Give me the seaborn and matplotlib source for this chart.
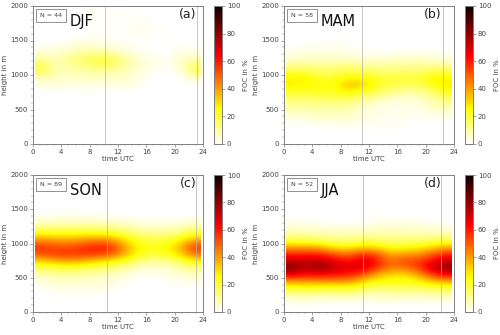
import numpy as np
import pandas as pd
import matplotlib
matplotlib.use("Agg")
import matplotlib.pyplot as plt
from matplotlib.ticker import MultipleLocator
import seaborn as sns

hours = [1, 3, 5, 7, 9, 11, 13, 15, 17, 19, 21, 23]
heights = [1950, 1850, 1750, 1650, 1550, 1450, 1350, 1250, 1150, 1050,
           950, 850, 750, 650, 550, 450, 350, 250, 150, 50]

djf = [
 [0,0,0,1,2,1,1,0,0,0,0,0],
 [0,0,0,1,1,1,1,1,0,0,0,0],
 [0,0,0,0,1,1,1,2,1,0,0,0],
 [0,0,0,0,1,1,1,2,1,1,0,0],
 [0,0,0,1,1,1,1,1,1,1,0,0],
 [1,1,3,5,3,3,2,1,0,0,1,0],
 [4,4,6,8,8,6,3,2,1,0,3,2],
 [8,6,11,15,18,17,10,4,2,1,5,6],
 [19,7,10,13,18,17,10,5,3,1,5,14],
 [17,7,7,8,9,8,7,4,2,0,2,17],
 [6,6,5,6,6,6,5,3,0,0,0,4],
 [3,4,3,3,3,3,4,2,0,0,0,1],
 [0,0,0,1,0,0,0,0,0,0,0,0],
 [0,0,0,0,0,0,0,0,0,0,0,0],
 [0,0,0,0,0,0,0,0,0,0,0,0],
 [0,0,0,0,0,0,0,0,0,0,0,0],
 [0,0,0,0,0,0,0,0,0,0,0,0],
 [0,0,0,0,0,0,0,0,0,0,0,0],
 [0,0,0,0,0,0,0,0,0,0,0,0],
 [0,0,0,0,0,0,0,0,0,0,0,0],
]
mam = [
 [0,0,0,0,0,0,0,0,0,0,0,0],
 [0,0,0,0,0,0,0,0,0,0,0,0],
 [0,0,0,0,0,0,0,0,0,0,0,0],
 [0,0,0,0,0,0,0,0,0,0,0,0],
 [0,0,0,1,0,0,0,0,0,0,0,0],
 [0,1,1,1,1,0,0,0,0,0,0,0],
 [2,3,3,3,2,1,1,1,1,2,1,1],
 [4,5,5,5,5,4,4,4,5,5,4,3],
 [10,11,10,11,12,10,9,9,10,9,10,9],
 [20,19,15,16,18,17,15,14,15,14,19,18],
 [27,27,22,22,27,27,22,20,20,20,26,27],
 [28,25,24,24,36,32,23,19,17,16,22,29],
 [21,21,23,22,25,22,17,11,9,9,13,22],
 [14,14,15,16,16,12,8,5,4,5,8,14],
 [10,10,10,10,10,6,3,2,2,3,6,9],
 [6,6,7,7,7,4,3,2,2,1,3,4],
 [2,3,4,4,4,3,2,2,2,1,1,1],
 [0,0,1,1,1,1,1,1,1,0,0,0],
 [0,0,0,0,0,0,0,0,0,0,0,0],
 [0,0,0,0,0,0,0,0,0,0,0,0],
]
son = [
 [0,0,0,0,0,0,0,0,0,0,0,0],
 [0,0,0,0,0,0,0,0,0,0,0,0],
 [0,0,0,0,0,0,0,0,0,0,0,0],
 [0,0,0,0,0,0,0,0,0,0,0,0],
 [0,0,0,0,0,0,0,0,0,0,0,0],
 [0,1,1,1,1,0,0,0,0,0,0,0],
 [4,4,4,4,4,3,3,2,2,2,2,3],
 [10,11,11,11,11,10,8,6,5,5,6,9],
 [24,24,24,24,24,22,17,13,11,11,14,22],
 [42,40,38,42,44,42,30,21,19,20,26,38],
 [56,52,52,56,60,58,40,25,23,25,35,56],
 [52,56,56,56,56,52,38,24,21,23,32,48],
 [33,38,40,38,33,28,22,14,11,11,17,28],
 [17,19,21,18,16,13,10,5,4,5,9,13],
 [8,10,10,9,8,7,4,2,2,3,4,7],
 [3,5,5,5,4,4,2,0,0,1,2,3],
 [1,3,3,3,3,2,0,0,0,0,0,0],
 [0,1,1,1,1,0,0,0,0,0,0,0],
 [0,0,0,0,0,0,0,0,0,0,0,0],
 [0,0,0,0,0,0,0,0,0,0,0,0],
]
jja = [
 [0,0,0,0,0,0,0,0,0,0,0,0],
 [0,0,0,0,0,0,0,0,0,0,0,0],
 [0,0,0,0,0,0,0,0,0,0,0,0],
 [0,0,0,0,0,0,0,0,0,0,0,0],
 [0,0,0,0,0,0,0,0,0,0,0,0],
 [0,0,0,0,0,0,0,0,0,0,0,0],
 [1,1,0,0,0,0,1,2,2,2,0,0],
 [4,4,3,3,3,3,4,4,4,4,3,3],
 [8,8,8,7,7,8,8,8,8,8,7,7],
 [18,17,15,13,13,15,15,13,13,14,15,17],
 [38,38,36,28,26,31,30,22,24,25,31,36],
 [58,58,58,50,46,55,52,37,40,40,48,58],
 [72,72,72,66,60,70,62,45,54,52,62,72],
 [82,72,82,72,68,70,58,45,46,54,70,80],
 [68,62,64,62,60,54,38,32,30,38,54,66],
 [40,42,42,42,42,34,25,25,23,26,34,38],
 [21,23,21,21,23,17,14,16,16,16,17,19],
 [9,9,9,9,9,7,6,7,7,7,7,8],
 [2,3,2,2,2,2,2,2,2,2,2,2],
 [0,0,0,0,0,0,0,0,0,0,0,0],
]

seasons = ["DJF", "MAM", "SON", "JJA"]
counts = [44, 58, 89, 52]
letters = ["(a)", "(b)", "(c)", "(d)"]
letter_x = [0.912, 0.876, 0.912, 0.876]
tables = [djf, mam, son, jja]
vlines = [[10.2, 23.2], [11.0, 22.4], [10.5, 23.0], [11.2, 22.2]]

W, H = 500, 335
axes_px = [(33, 6, 203, 144), (284, 6, 454, 144), (33, 175, 203, 312), (284, 175, 454, 312)]
cbar_px = [(214, 6, 222, 144), (465, 6, 473, 144), (214, 175, 222, 312), (465, 175, 473, 312)]
GREY = "#808080"
TXT = "#444444"
FS = 5.0

sns.set_theme(style="white", rc={"font.family": "DejaVu Sans"})
fig = plt.figure(figsize=(W / 100, H / 100), dpi=100)


def box(p):
    return [p[0] / W, 1 - p[3] / H, (p[2] - p[0]) / W, (p[3] - p[1]) / H]


def style(a):
    for s in a.spines.values():
        s.set_visible(True)
        s.set_color(GREY)
        s.set_linewidth(0.7)
    a.tick_params(which="major", length=2.2, width=0.5, color=GREY, labelcolor=TXT, labelsize=FS, pad=1.2,
                  bottom=True, left=True)
    a.tick_params(which="minor", length=1.2, width=0.35, color=GREY, bottom=True, left=True)


for i in range(4):
    ax = fig.add_axes(box(axes_px[i]))
    cax = fig.add_axes(box(cbar_px[i]))
    df = pd.DataFrame(tables[i], index=heights, columns=hours)
    sns.heatmap(df, ax=ax, cbar_ax=cax, cmap="hot_r", vmin=0, vmax=100)
    mesh = ax.collections[0]
    mesh.set_visible(False)
    # smooth rendering of the same table; x in heatmap cells (2 h), y in cells (100 m, top down)
    ax.imshow(df.values, cmap="hot_r", vmin=0, vmax=100, aspect="auto", interpolation="bicubic",
              extent=(0.15, 11.85, 20, 0), zorder=1)
    ax.set_xlim(0, 12)
    ax.set_ylim(20, 0)

    ax.set_xticks(np.arange(0, 25, 4) / 2)
    ax.set_xticklabels([str(v) for v in range(0, 25, 4)], rotation=0)
    ax.set_yticks((2000 - np.arange(0, 2001, 500)) / 100)
    ax.set_yticklabels([str(v) for v in range(0, 2001, 500)], rotation=0)
    ax.xaxis.set_minor_locator(MultipleLocator(0.5))
    ax.yaxis.set_minor_locator(MultipleLocator(1))
    ax.set_xlabel("time UTC", fontsize=FS, color=TXT, labelpad=1)
    ax.set_ylabel("height in m", fontsize=FS, color=TXT, labelpad=1.5)
    style(ax)

    for t in vlines[i]:
        ax.axvline(t / 2, color="#b0b0b0", lw=0.5, zorder=2)

    ax.text(0.042, 0.931, f"N = {counts[i]}", transform=ax.transAxes, fontsize=4.6, color=TXT,
            va="center", ha="left", zorder=4,
            bbox=dict(boxstyle="square,pad=0.6", fc="white", ec=GREY, lw=0.6))
    ax.text(0.218, 0.885, seasons[i], transform=ax.transAxes, fontsize=10.5, color="#111111",
            va="center", ha="left", zorder=4)
    ax.text(letter_x[i], 0.94, letters[i], transform=ax.transAxes, fontsize=9, color="#222222",
            va="center", ha="center", zorder=4)

    cax.set_yticks(np.arange(0, 101, 20))
    cax.set_ylabel("FOC in %", fontsize=FS, color=TXT, labelpad=2)
    cax.yaxis.set_label_position("right")
    cax.tick_params(which="major", length=2.2, width=0.5, color=GREY, labelcolor=TXT, labelsize=FS, pad=1.2, right=True)
    for s in cax.spines.values():
        s.set_visible(True)
        s.set_color(GREY)
        s.set_linewidth(0.7)

fig.savefig("out.png", dpi=100)
